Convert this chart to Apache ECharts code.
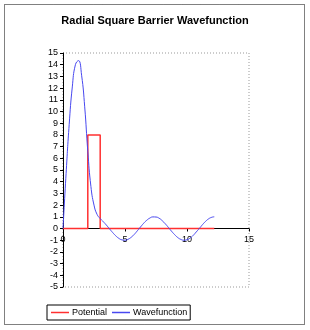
<!DOCTYPE html>
<html><head><meta charset="utf-8">
<script src="https://cdn.jsdelivr.net/npm/echarts@6/dist/echarts.min.js"></script>
<style>html,body{margin:0;padding:0;background:#fff}#c{width:310px;height:330px}</style>
</head><body><div id="c"></div>
<script>
var titleText = "Radial Square Barrier Wavefunction";
var seriesNames = ["Potential", "Wavefunction"];
var potX = [0, 2, 2, 3, 3, 12.2];
var potY = [0, 0, 8, 8, 0, 0];
var waveX = [0, 0.25, 0.5, 0.75, 1.0, 1.25, 1.5, 1.75, 2.0, 2.25, 2.5, 2.75, 3.0, 3.25, 3.5, 3.75, 4.0, 4.25, 4.5, 4.75, 5.0, 5.25, 5.5, 5.75, 6.0, 6.25, 6.5, 6.75, 7.0, 7.25, 7.5, 7.75, 8.0, 8.25, 8.5, 8.75, 9.0, 9.25, 9.5, 9.75, 10.0, 10.25, 10.5, 10.75, 11.0, 11.25, 11.5, 11.75, 12.0, 12.2];
var waveY = [0, 4.7, 8.9, 12.1, 14.0, 14.35, 13.1, 10.4, 6.6, 3.6, 2.0, 1.2, 0.85, 0.58, 0.29, -0.03, -0.34, -0.62, -0.84, -0.97, -1.0, -0.92, -0.75, -0.5, -0.19, 0.13, 0.44, 0.7, 0.89, 0.99, 0.98, 0.88, 0.67, 0.4, 0.09, -0.23, -0.52, -0.77, -0.93, -1.0, -0.96, -0.82, -0.59, -0.29, 0.01, 0.33, 0.61, 0.83, 0.96, 1.0];
var xMin = 0, xMax = 15, xStep = 5;
var yMin = -5, yMax = 15, yStep = 1;

function pairs(xs, ys){ return xs.map(function(x,i){ return [x, ys[i]]; }); }
var font = "Liberation Sans, Arial, sans-serif";
var gridTop = 53, gridBottom = 43, H = 330;
var plotH = H - gridTop - gridBottom;
var zeroOffset = plotH * (0 - yMin) / (yMax - yMin);
var chart = echarts.init(document.getElementById('c'));
chart.setOption({
  animation: false,
  backgroundColor: '#fff',
  title: { text: titleText, left: 'center', top: 10,
    textStyle: { fontFamily: font, fontSize: 11, fontWeight: 'bold', color: '#000' } },
  graphic: [{ type: 'rect', shape: { x: 4.5, y: 4.5, width: 300, height: 320 },
    style: { fill: 'none', stroke: '#000', lineWidth: 1, lineDash: [1, 1] }, z: -1 }],
  grid: { left: 63, right: 61, top: gridTop, bottom: gridBottom, show: true, borderColor: '#999',
    borderWidth: 1, borderType: [1, 2], backgroundColor: '#fff' },
  legend: { data: seriesNames, left: 47, top: 305, icon: 'rect', itemWidth: 18, itemHeight: 1.5, itemGap: 5,
    padding: [3, 3, 3, 4], borderColor: '#000', borderWidth: 1,
    textStyle: { fontFamily: font, fontSize: 9, color: '#000', padding: [0, 0, 0, -2] } },
  xAxis: { type: 'value', min: xMin, max: xMax, interval: xStep, offset: -zeroOffset,
    axisLine: { onZero: false, lineStyle: { color: '#000', width: 1 } },
    axisTick: { show: true, length: 3, lineStyle: { color: '#000' } },
    axisLabel: { fontFamily: font, fontSize: 9, color: '#000', margin: 7 },
    splitLine: { show: false } },
  yAxis: { type: 'value', min: yMin, max: yMax, interval: yStep,
    axisLine: { show: true, onZero: false, lineStyle: { color: '#000', width: 1 } },
    axisTick: { show: true, length: 3, lineStyle: { color: '#000' } },
    axisLabel: { fontFamily: font, fontSize: 9, color: '#000', margin: 5 },
    splitLine: { show: false } },
  series: [
    { name: seriesNames[0], type: 'line', data: pairs(potX, potY), symbol: 'none',
      lineStyle: { color: '#ff3030', width: 1.5 }, itemStyle: { color: '#ff3030' } },
    { name: seriesNames[1], type: 'line', data: pairs(waveX, waveY), symbol: 'none', smooth: true,
      lineStyle: { color: '#4848f0', width: 1 }, itemStyle: { color: '#4848f0' } }
  ]
});
</script></body></html>
